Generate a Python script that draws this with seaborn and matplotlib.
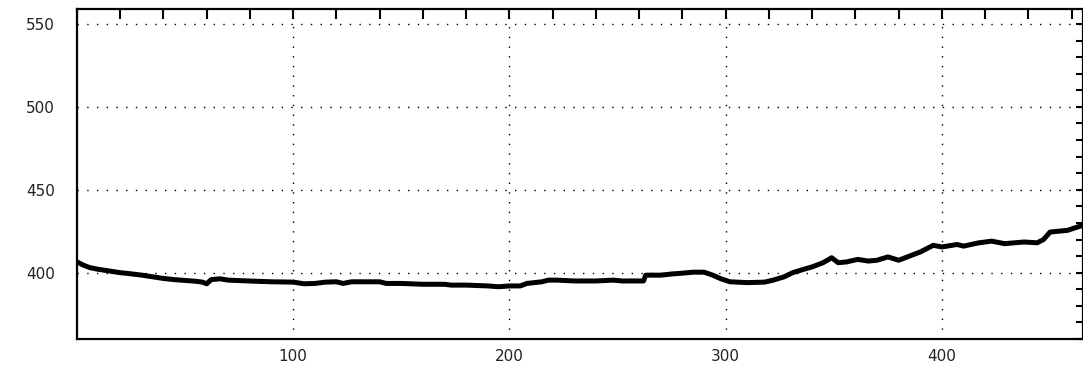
import matplotlib
matplotlib.use("Agg")
import matplotlib.pyplot as plt
from matplotlib.ticker import FixedLocator, MultipleLocator
import seaborn as sns
import pandas as pd

# data
x_values = [0, 3, 6, 10, 15, 20, 25, 30, 35, 40, 45, 50, 55, 58, 60, 62, 66, 70, 79, 90,
            100, 105, 110, 115, 120, 123, 127, 135, 140, 143, 150, 160, 170, 173, 180, 190,
            195, 200, 205, 208, 215, 218, 222, 230, 240, 248, 252, 262, 263, 270, 275, 280,
            285, 290, 294, 298, 302, 310, 318, 322, 327, 331, 336, 340, 345, 349, 352, 356,
            361, 366, 370, 375, 380, 386, 390, 393, 396, 400, 407, 410, 417, 423, 429, 438,
            444, 447, 450, 458, 465]
y_values = [406.5, 404.5, 403, 402, 401, 400, 399.3, 398.5, 397.5, 396.5, 395.8, 395.3, 394.8,
            394.3, 393.3, 395.8, 396.3, 395.5, 395, 394.5, 394.3, 393.3, 393.5, 394.3, 394.5,
            393.5, 394.5, 394.5, 394.5, 393.5, 393.5, 393, 393, 392.5, 392.5, 392, 391.5, 392,
            392, 393.5, 394.5, 395.5, 395.5, 395, 395, 395.5, 395, 395, 398.5, 398.5, 399.2,
            399.7, 400.3, 400.3, 398.5, 396.2, 394.5, 394, 394.3, 395.5, 397.5, 400, 402,
            403.5, 406, 409, 406, 406.5, 408, 407, 407.5, 409.5, 407.5, 410.5, 412.5, 414.5,
            416.5, 415.5, 417, 416, 418, 419, 417.5, 418.5, 418, 420, 424.5, 425.5, 428.5]
x_major = [100, 200, 300, 400]
y_major = [400, 450, 500, 550]

df = pd.DataFrame({"x": x_values, "y": y_values})

sns.set_theme(style="white")
plt.rcParams["font.family"] = ["DejaVu Sans"]

fig = plt.figure(figsize=(10.83, 3.67), dpi=100)
ax = fig.add_axes([77 / 1083, 1 - 339 / 367, (1082.5 - 77) / 1083, (339 - 9) / 367])

sns.lineplot(data=df, x="x", y="y", ax=ax, color="black", linewidth=3.6,
             solid_joinstyle="round", solid_capstyle="butt")

ax.set_xlim(0, 465)
ax.set_ylim(360, 559)
ax.xaxis.set_major_locator(FixedLocator(x_major))
ax.yaxis.set_major_locator(FixedLocator(y_major))
ax.xaxis.set_minor_locator(MultipleLocator(20))
ax.yaxis.set_minor_locator(MultipleLocator(10))
ax.set_xticklabels([str(v) for v in x_major])
ax.set_yticklabels([str(v) for v in y_major])
ax.set_xlabel("")
ax.set_ylabel("")

ax.grid(True, which="major", color="black", linestyle=(0, (1, 6)), linewidth=1.0)
ax.tick_params(which="both", direction="in", top=True, right=True, color="black",
               width=1.5, labelsize=11, labelcolor="#222222")
ax.tick_params(axis="x", which="both", length=7, pad=7)
ax.tick_params(axis="y", which="both", length=5, pad=16)
for s in ax.spines.values():
    s.set_color("black")
    s.set_linewidth(1.6)

fig.savefig("out.png", dpi=100, facecolor="white")
